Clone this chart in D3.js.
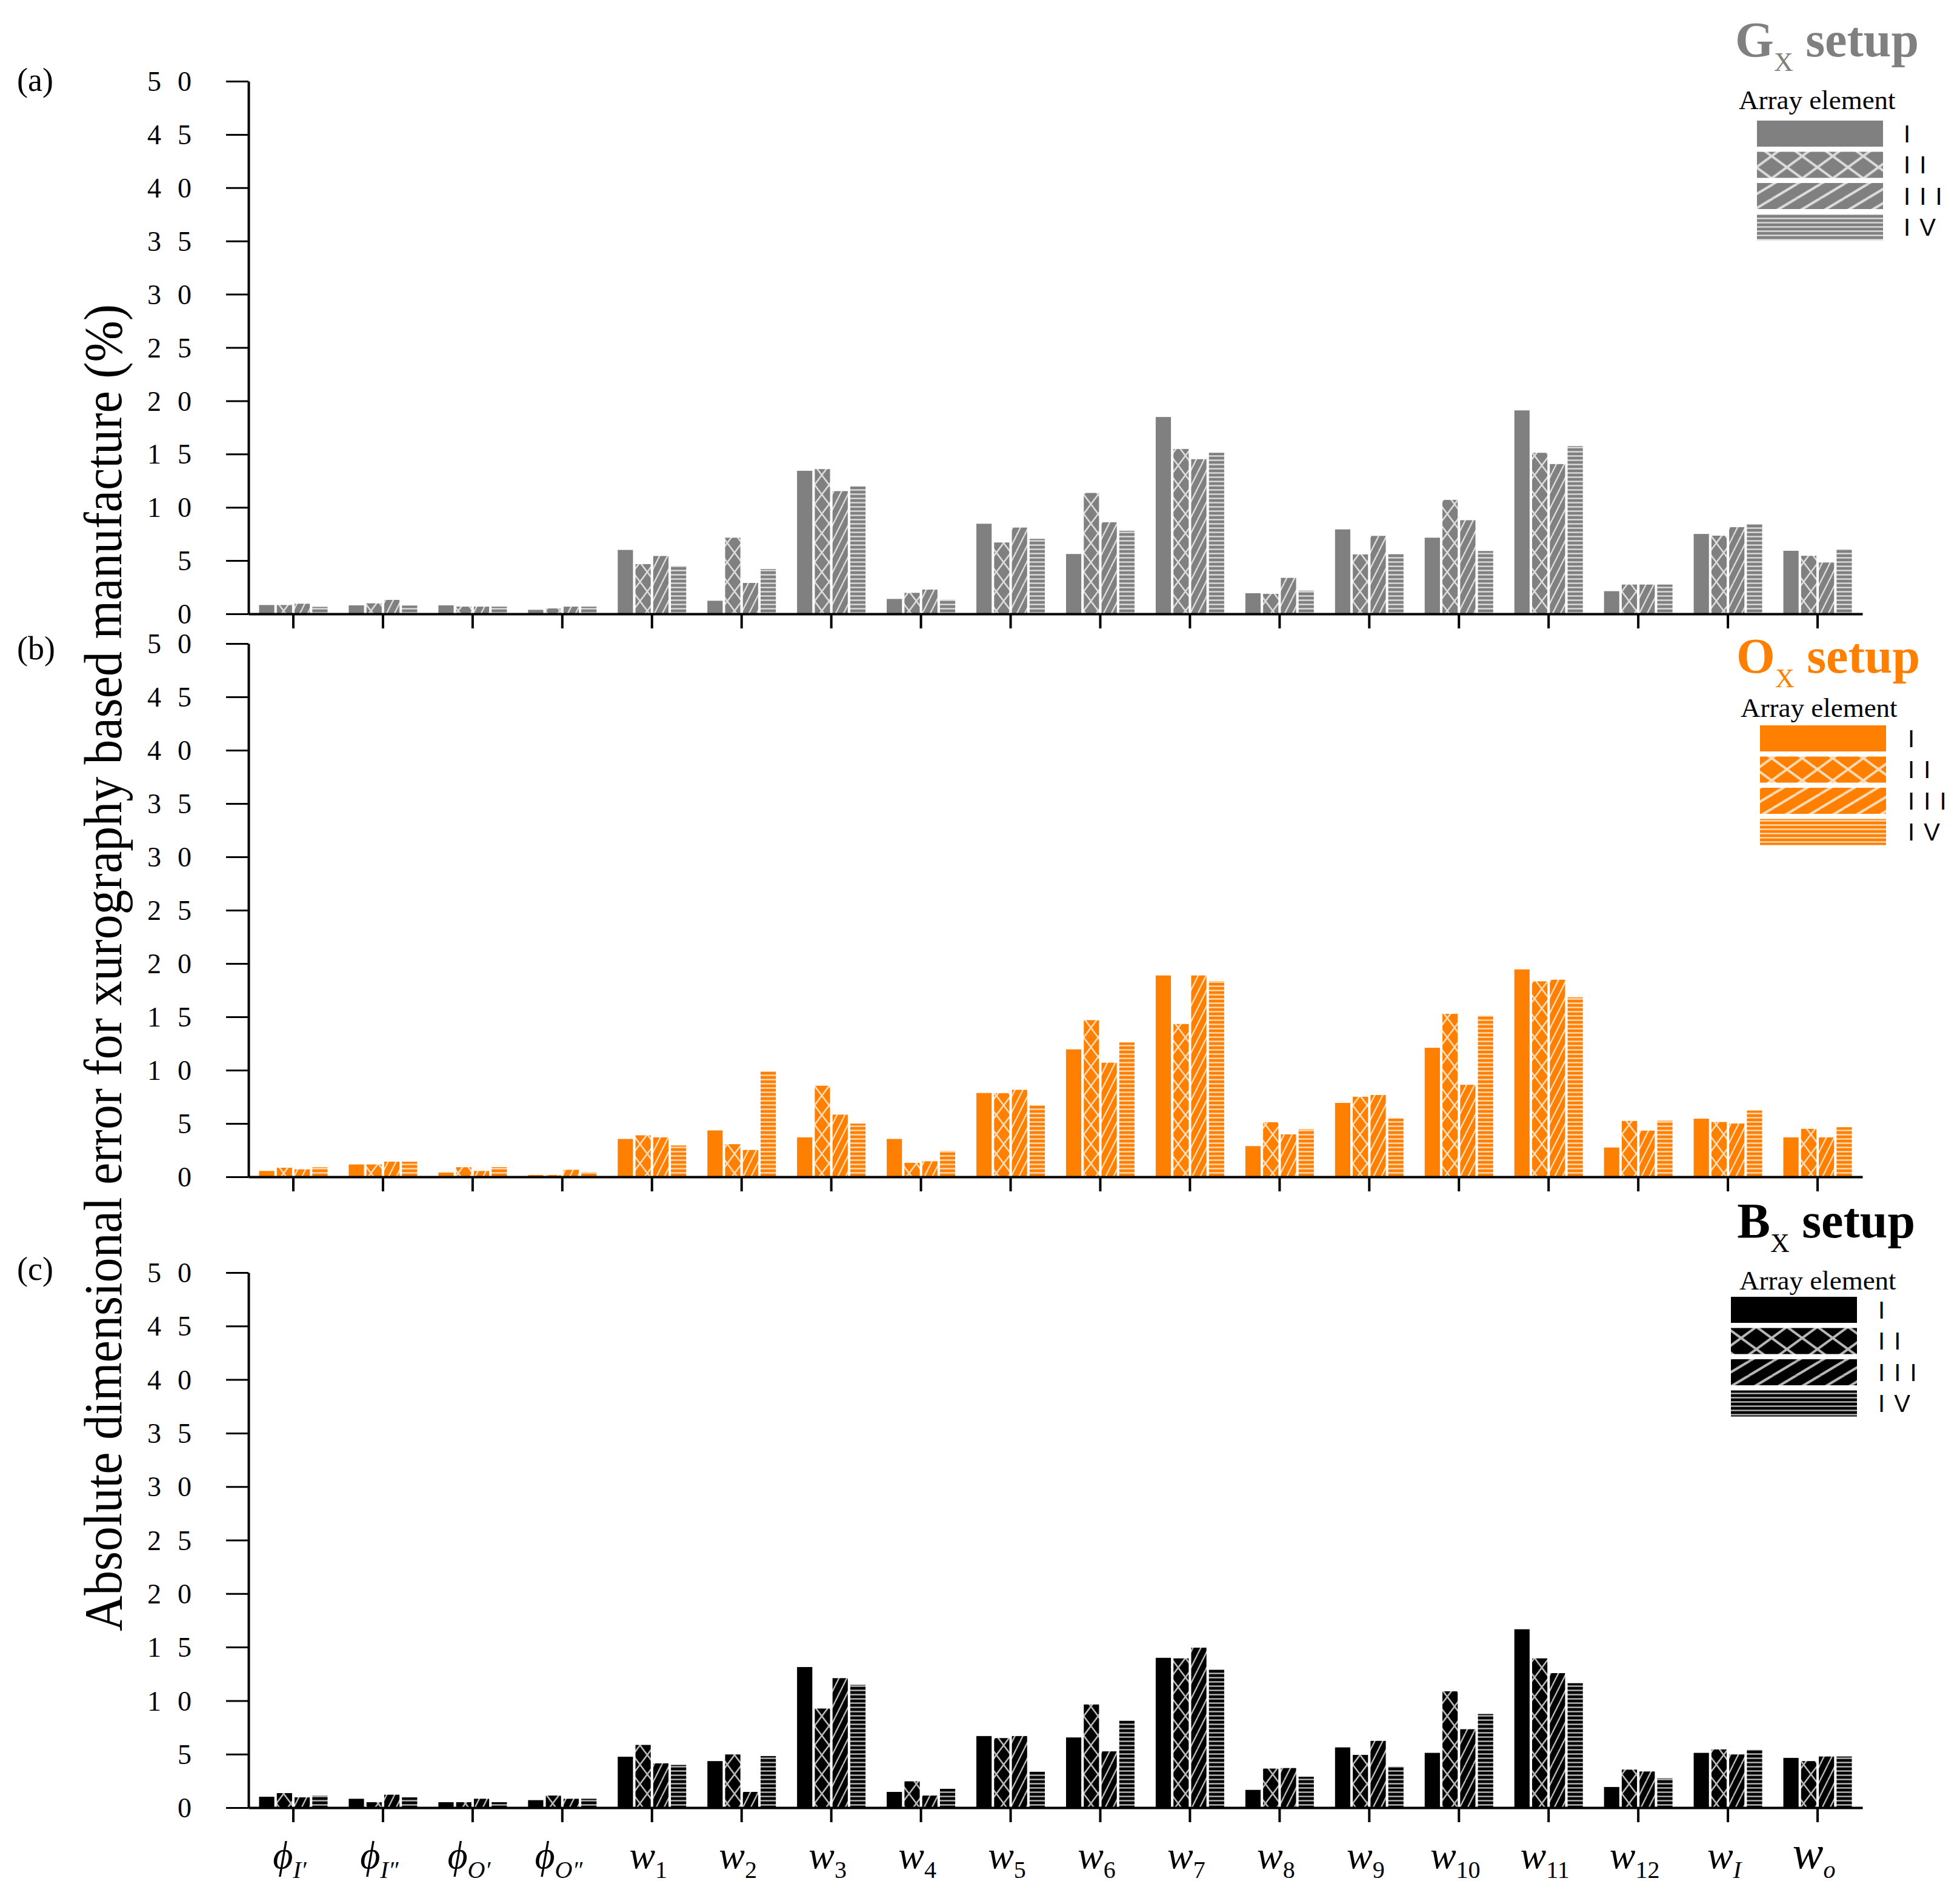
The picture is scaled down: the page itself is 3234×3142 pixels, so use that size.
<!DOCTYPE html>
<html>
<head>
<meta charset="utf-8">
<script src="https://cdn.jsdelivr.net/npm/d3@7"></script>
<style>
  html, body { margin: 0; padding: 0; background: #fff; }
  svg { display: block; }
</style>
</head>
<body>
<script>
// ---------------- DATA ----------------
const categories = ["phiI1","phiI2","phiO1","phiO2","w1","w2","w3","w4","w5","w6","w7","w8","w9","w10","w11","w12","wI","wo"];
const catBase = ["ϕ","ϕ","ϕ","ϕ","w","w","w","w","w","w","w","w","w","w","w","w","w","w"];
const catSub  = ["I′","I″","O′","O″","1","2","3","4","5","6","7","8","9","10","11","12","I","o"];
const seriesNames = ["I","II","III","IV"];
const seriesLabels = ["I","I I","I I I","I V"];
const yTicks = [0,5,10,15,20,25,30,35,40,45,50];

// Gx setup
const gxI   = [0.83,0.80,0.80,0.38,6.00,1.23,13.43,1.40,8.46,5.62,18.48,1.94,7.93,7.15,19.10,2.13,7.50,5.92];
const gxII  = [0.83,0.99,0.68,0.51,4.67,7.15,13.59,1.97,6.70,11.35,15.48,1.88,5.58,10.70,15.12,2.75,7.34,5.45];
const gxIII = [0.95,1.31,0.68,0.68,5.43,2.90,11.52,2.28,8.10,8.60,14.52,3.38,7.32,8.79,14.06,2.75,8.14,4.82];
const gxIV  = [0.66,0.78,0.68,0.68,4.50,4.21,11.97,1.33,7.04,7.80,15.12,2.18,5.62,5.90,15.75,2.75,8.42,6.07];
// Ox setup
const oxI   = [0.55,1.16,0.40,0.17,3.55,4.35,3.70,3.55,7.86,11.95,18.88,2.88,6.93,12.10,19.45,2.75,5.45,3.70];
const oxII  = [0.85,1.16,0.90,0.17,3.89,3.06,8.54,1.31,7.84,14.69,14.33,5.12,7.51,15.28,18.33,5.24,5.14,4.50];
const oxIII = [0.70,1.42,0.55,0.66,3.70,2.52,5.83,1.46,8.16,10.70,18.88,3.98,7.67,8.63,18.48,4.33,5.00,3.70];
const oxIV  = [0.90,1.42,0.91,0.44,2.94,9.89,4.99,2.43,6.72,12.60,18.35,4.46,5.48,15.12,16.83,5.26,6.22,4.65];
// Bx setup
const bxI   = [1.02,0.83,0.51,0.70,4.76,4.35,13.14,1.47,6.69,6.56,14.00,1.66,5.63,5.12,16.67,1.93,5.12,4.65];
const bxII  = [1.36,0.51,0.51,1.13,5.86,4.97,9.26,2.46,6.50,9.64,13.95,3.65,4.93,10.87,13.95,3.55,5.44,4.35];
const bxIII = [0.96,1.21,0.83,0.83,4.14,1.47,12.10,1.13,6.69,5.26,14.95,3.70,6.24,7.33,12.57,3.38,4.97,4.78];
const bxIV  = [1.13,0.96,0.51,0.83,3.99,4.82,11.47,1.76,3.36,8.13,12.91,2.89,3.84,8.75,11.63,2.74,5.41,4.78];

// ---------------- LAYOUT ----------------
const W = 3234, H = 3142;
const SERIF = "'Liberation Serif','DejaVu Serif',serif";
const SANS = "'Liberation Sans','DejaVu Sans',sans-serif";

const panels = [
  { id:"g", letter:"G", color:"#808080", titleColor:"#808080", data:[gxI,gxII,gxIII,gxIV],
    yTop:134, yBot:1013, tag:"(a)", tagY:150,
    titleRight:3166, titleY:93, aeX:2869, aeY:180,
    legX:2899, legY:199, legLabelX:3141 },
  { id:"o", letter:"O", color:"#ff8000", titleColor:"#ff8000", data:[oxI,oxII,oxIII,oxIV],
    yTop:1062, yBot:1942, tag:"(b)", tagY:1088,
    titleRight:3168, titleY:1110, aeX:2872, aeY:1183,
    legX:2904, legY:1197, legLabelX:3148 },
  { id:"b", letter:"B", color:"#000000", titleColor:"#000000", data:[bxI,bxII,bxIII,bxIV],
    yTop:2100, yBot:2983, tag:"(c)", tagY:2112,
    titleRight:3160, titleY:2042, aeX:2870, aeY:2128,
    legX:2856, legY:2140, legLabelX:3099 }
];

const svg = d3.select("body").append("svg")
  .attr("width", W).attr("height", H)
  .attr("viewBox", `0 0 ${W} ${H}`);

svg.append("rect").attr("width", W).attr("height", H).attr("fill", "#fff");

const defs = svg.append("defs");
const LINE = "rgba(255,255,255,0.72)";

function makePatterns(p, suffix, tf) {
  // cross hatch
  const cw = 24, ch = 32;
  const pc = defs.append("pattern").attr("id", `${p.id}-II${suffix}`)
    .attr("patternUnits","userSpaceOnUse").attr("width", cw).attr("height", ch);
  if (tf) pc.attr("patternTransform", tf.cross);
  pc.append("rect").attr("width", cw).attr("height", ch).attr("fill", p.color);
  pc.append("path").attr("d", `M0,0L${cw},${ch}M0,${ch}L${cw},0`)
    .attr("stroke", LINE).attr("stroke-width", 2.6).attr("fill","none");
  // diagonal
  const dw = 13, dh = 26;
  const pd = defs.append("pattern").attr("id", `${p.id}-III${suffix}`)
    .attr("patternUnits","userSpaceOnUse").attr("width", dw).attr("height", dh);
  if (tf) pd.attr("patternTransform", tf.diag);
  pd.append("rect").attr("width", dw).attr("height", dh).attr("fill", p.color);
  pd.append("path").attr("d", `M0,${dh}L${dw},0M${-dw},${dh}L0,0M${dw},${dh}L${2*dw},0`)
    .attr("stroke", LINE).attr("stroke-width", 2.4).attr("fill","none");
  // horizontal
  const hh = 7;
  const ph = defs.append("pattern").attr("id", `${p.id}-IV${suffix}`)
    .attr("patternUnits","userSpaceOnUse").attr("width", 10).attr("height", hh);
  ph.append("rect").attr("width", 10).attr("height", hh).attr("fill", p.color);
  ph.append("rect").attr("y", 2.3).attr("width", 10).attr("height", 2.4).attr("fill", LINE);
}

panels.forEach(p => {
  makePatterns(p, "", null);
  makePatterns(p, "-leg", { cross: "scale(2.1,1.15)", diag: "scale(3,0.9)" });
});

function fillFor(p, si, suffix) {
  if (si === 0) return p.color;
  return `url(#${p.id}-${seriesNames[si]}${suffix})`;
}

const x = d3.scaleBand().domain(categories).range([410, 3073]).padding(0);
const groupW = 113;
const xs = d3.scaleBand().domain(seriesNames).range([0, groupW]).paddingInner(0.14).paddingOuter(0);

const fmtTick = d => d === 0 ? "0" : String(d).split("").join("\u2002");

panels.forEach((p, pi) => {
  const y = d3.scaleLinear().domain([0, 50]).range([p.yBot, p.yTop]);
  const g = svg.append("g");

  // bars
  seriesNames.forEach((s, si) => {
    g.append("g").selectAll("rect")
      .data(categories.map((c, ci) => ({ c, v: p.data[si][ci] })))
      .join("rect")
      .attr("x", d => x(d.c) + (x.bandwidth() - groupW) / 2 + xs(s))
      .attr("y", d => y(d.v))
      .attr("width", xs.bandwidth())
      .attr("height", d => y(0) - y(d.v))
      .attr("fill", fillFor(p, si, ""));
  });

  // y axis
  const ya = g.append("g").attr("transform", `translate(410,0)`)
    .call(d3.axisLeft(y).tickValues(yTicks).tickSize(37).tickSizeOuter(0).tickPadding(55).tickFormat(fmtTick));
  ya.attr("font-family", SERIF);
  ya.select(".domain").attr("stroke", "#000").attr("stroke-width", 4);
  ya.selectAll(".tick line").attr("stroke", "#000").attr("stroke-width", 3);
  ya.selectAll(".tick text").attr("font-family", SERIF).attr("font-size", 46)
    .attr("fill", "#000").attr("letter-spacing", 2).attr("dy", "0.34em");

  // x axis
  const xa = g.append("g").attr("transform", `translate(0,${p.yBot})`)
    .call(d3.axisBottom(x).tickSize(24).tickSizeOuter(0).tickFormat(""));
  xa.select(".domain").attr("stroke", "#000").attr("stroke-width", 4);
  xa.selectAll(".tick line").attr("stroke", "#000").attr("stroke-width", 4);

  // panel tag
  svg.append("text").attr("x", 28).attr("y", p.tagY)
    .attr("font-family", SERIF).attr("font-size", 54).attr("fill", "#000").text(p.tag);

  // title
  const t = svg.append("text").attr("x", p.titleRight).attr("y", p.titleY)
    .attr("text-anchor", "end").attr("font-family", SERIF).attr("font-weight", "bold")
    .attr("font-size", 82).attr("fill", p.titleColor);
  t.append("tspan").text(p.letter);
  t.append("tspan").attr("font-size", 44).attr("dy", 24).attr("font-weight", "normal").text("X");
  t.append("tspan").attr("dy", -24).text(" setup");

  svg.append("text").attr("x", p.aeX).attr("y", p.aeY)
    .attr("font-family", SERIF).attr("font-size", 45).attr("fill", "#000").text("Array element");

  // legend
  seriesNames.forEach((s, si) => {
    const yy = p.legY + si * 51.5;
    svg.append("rect").attr("x", p.legX).attr("y", yy).attr("width", 208).attr("height", 43)
      .attr("fill", fillFor(p, si, "-leg"));
    svg.append("text").attr("x", p.legLabelX).attr("y", yy + 21.5).attr("dy", "0.36em")
      .attr("font-family", SANS).attr("font-size", 40).attr("letter-spacing", 2)
      .attr("fill", "#000").text(seriesLabels[si]);
  });

  // category labels on bottom panel only
  if (pi === panels.length - 1) {
    categories.forEach((c, ci) => {
      const big = ci === categories.length - 1;
      const numeric = /^\d+$/.test(catSub[ci]);
      const tx = svg.append("text")
        .attr("x", x(c) + x.bandwidth() / 2 - 6)
        .attr("y", 3083)
        .attr("text-anchor", "middle")
        .attr("font-family", SERIF).attr("font-style", "italic")
        .attr("font-size", big ? 76 : 64).attr("fill", "#000");
      tx.append("tspan").text(catBase[ci]);
      tx.append("tspan").attr("font-size", 40).attr("dy", 16)
        .attr("font-style", numeric ? "normal" : "italic").text(catSub[ci]);
    });
  }
});

// y axis title
svg.append("text")
  .attr("transform", "translate(200,1597) rotate(-90)")
  .attr("text-anchor", "middle")
  .attr("font-family", SERIF).attr("font-size", 88).attr("fill", "#000")
  .attr("textLength", 2190).attr("lengthAdjust", "spacingAndGlyphs")
  .text("Absolute dimensional error for xurography based manufacture (%)");
</script>
</body>
</html>
